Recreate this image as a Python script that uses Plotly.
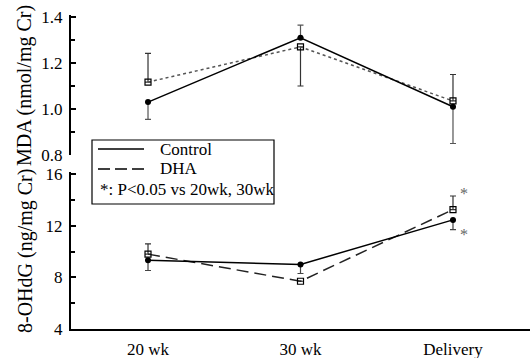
import plotly.graph_objects as go

categories = ["20 wk", "30 wk", "Delivery"]
xpos = [0, 1, 2]

# MDA (nmol/mg Cr)
mda_control = [1.03, 1.31, 1.01]
mda_control_up = [0.0, 0.055, 0.0]
mda_control_down = [0.075, 0.0, 0.16]
mda_dha = [1.117, 1.27, 1.035]
mda_dha_up = [0.125, 0.0, 0.115]
mda_dha_down = [0.0, 0.17, 0.0]

# 8-OHdG (ng/mg Cr)
ohdg_control = [9.33, 9.0, 12.45]
ohdg_control_up = [0.0, 0.0, 0.0]
ohdg_control_down = [0.8, 0.7, 0.75]
ohdg_dha = [9.8, 7.7, 13.25]
ohdg_dha_up = [0.8, 0.0, 1.05]
ohdg_dha_down = [0.0, 0.0, 0.0]

star_y = [14.7, 11.55]

FONT = "Liberation Serif"

L, R, T, B = 71, 0, 15, 29
W, H = 530, 358
PW, PH = W - L - R, H - T - B


def px(xp):
    return (xp - L) / PW


def py(yp):
    return (H - B - yp) / PH


fig = go.Figure()

err_common = dict(type="data", symmetric=False, thickness=1.2, width=3)

# top panel
fig.add_trace(go.Scatter(
    x=xpos, y=mda_dha, xaxis="x2", yaxis="y2", mode="lines+markers",
    line=dict(color="#555555", width=1.5, dash="dot"),
    marker=dict(symbol="square-open", size=6, color="black", line=dict(width=1.2, color="black")),
    error_y=dict(array=mda_dha_up, arrayminus=mda_dha_down, color="#333333", **err_common),
    showlegend=False))
fig.add_trace(go.Scatter(
    x=xpos, y=mda_control, xaxis="x2", yaxis="y2", mode="lines+markers",
    line=dict(color="black", width=1.5),
    marker=dict(symbol="circle", size=6, color="black"),
    error_y=dict(array=mda_control_up, arrayminus=mda_control_down, color="#555555", **err_common),
    showlegend=False))

# bottom panel
fig.add_trace(go.Scatter(
    x=xpos, y=ohdg_dha, xaxis="x", yaxis="y", mode="lines+markers",
    line=dict(color="#222222", width=1.5, dash="12px,6px"),
    marker=dict(symbol="square-open", size=6, color="black", line=dict(width=1.2, color="black")),
    error_y=dict(array=ohdg_dha_up, arrayminus=ohdg_dha_down, color="#333333", **err_common),
    showlegend=False))
fig.add_trace(go.Scatter(
    x=xpos, y=ohdg_control, xaxis="x", yaxis="y", mode="lines+markers",
    line=dict(color="black", width=1.5),
    marker=dict(symbol="circle", size=6, color="black"),
    error_y=dict(array=ohdg_control_up, arrayminus=ohdg_control_down, color="#444444", **err_common),
    showlegend=False))

yax_common = dict(
    showline=True, linecolor="black", linewidth=2, ticks="inside", ticklen=5,
    tickwidth=1.5, tickcolor="black", showgrid=False, zeroline=False,
    tickfont=dict(family=FONT, size=17, color="black"), ticklabelstandoff=3,
)

fig.update_layout(
    width=W, height=H,
    margin=dict(l=L, r=R, t=T, b=B, autoexpand=False),
    plot_bgcolor="white", paper_bgcolor="white",
    font=dict(family=FONT, color="black"),
    xaxis=dict(domain=[0, 1], range=[-0.505, 2.505], tickvals=xpos, ticktext=categories,
               showline=True, linecolor="black", linewidth=2, ticks="", showgrid=False,
               zeroline=False, anchor="y", tickfont=dict(family=FONT, size=17, color="black"),
               ticklabelstandoff=4),
    xaxis2=dict(domain=[0, 1], range=[-0.505, 2.505], visible=False, anchor="y2", matches="x"),
    yaxis=dict(domain=[0, py(172)], range=[4, 16.16], tickvals=[4, 8, 12, 16],
               minor=dict(tickvals=[6, 10, 14], ticks="inside", ticklen=4, tickcolor="black"),
               anchor="x", **yax_common),
    yaxis2=dict(domain=[py(155), 1], range=[0.8, 1.4087], tickvals=[0.8, 1.0, 1.2, 1.4],
                ticktext=["0.8", "1.0", "1.2", "1.4"],
                minor=dict(tickvals=[0.9, 1.1, 1.3], ticks="inside", ticklen=4, tickcolor="black"),
                anchor="x2", **yax_common),
)

# axis titles
fig.add_annotation(text="MDA (nmol/mg Cr)", xref="paper", yref="paper", x=px(25), y=py(86),
                   xanchor="center", yanchor="middle",
                   textangle=-90, showarrow=False, font=dict(family=FONT, size=20, color="black"))
fig.add_annotation(text="8-OHdG (ng/mg Cr)", xref="paper", yref="paper", x=px(25), y=py(251),
                   xanchor="center", yanchor="middle",
                   textangle=-90, showarrow=False, font=dict(family=FONT, size=20, color="black"))

# legend box
fig.add_shape(type="rect", xref="paper", yref="paper", x0=px(92), x1=px(274), y0=py(204), y1=py(140),
              line=dict(color="black", width=1.2), fillcolor="white")
fig.add_shape(type="line", xref="paper", yref="paper", x0=px(98), x1=px(144), y0=py(149), y1=py(149),
              line=dict(color="black", width=1.3))
fig.add_shape(type="line", xref="paper", yref="paper", x0=px(98), x1=px(144), y0=py(169), y1=py(169),
              line=dict(color="black", width=1.3, dash="12px,5px"))
fig.add_annotation(text="Control", xref="paper", yref="paper", x=px(158), y=py(149), xanchor="left",
                   yanchor="middle", showarrow=False, font=dict(family=FONT, size=17, color="black"))
fig.add_annotation(text="DHA", xref="paper", yref="paper", x=px(158), y=py(168), xanchor="left",
                   yanchor="middle", showarrow=False, font=dict(family=FONT, size=17, color="black"))
fig.add_annotation(text="*: P<0.05 vs 20wk, 30wk", xref="paper", yref="paper", x=px(98), y=py(189),
                   xanchor="left", yanchor="middle", showarrow=False,
                   font=dict(family=FONT, size=17, color="black"))

# significance asterisks
for yv in star_y:
    fig.add_annotation(text="*", xref="x", yref="y", x=2, y=yv, xshift=11, yshift=-3,
                       xanchor="center", yanchor="middle",
                       showarrow=False, font=dict(family=FONT, size=16, color="#666666"))

fig.write_html("out.html", config={"displayModeBar": False},
               post_script="document.body.style.margin='0';document.body.style.overflow='hidden';")
